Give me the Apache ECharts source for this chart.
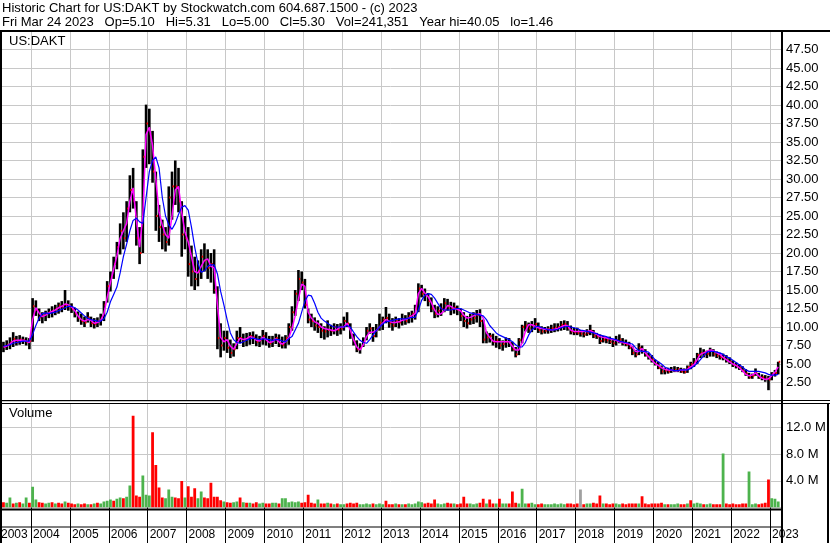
<!DOCTYPE html>
<html>
<head>
<meta charset="utf-8">
<script src="https://cdn.jsdelivr.net/npm/echarts@6/dist/echarts.min.js"></script>
<style>
html, body { margin: 0; padding: 0; background: #fff; }
#chart { width: 830px; height: 543px; }
</style>
</head>
<body>
<div id="chart"></div>
<script>
// monthly bars, April 2003 .. March 2023
const lows = [
  6.6, 6.9, 7.0, 7.3, 7.5, 7.6, 7.7, 7.5, 7.0,
  8.0, 11.5, 10.8, 10.5, 10.8, 11.2, 11.3, 11.6, 11.8, 12.0, 12.3, 12.2,
  11.9, 11.3, 10.7, 10.3, 10.0, 10.6, 10.0, 9.8, 10.0, 10.2, 10.8, 13.3,
  14.8, 16.5, 17.8, 19.8, 20.5, 21.5, 25.5, 26.0, 21.0, 18.5, 20.0, 31.5,
  32.0, 29.5, 23.0, 21.5, 20.5, 20.2, 21.0, 24.5, 26.5, 25.5, 19.5, 20.5,
  16.8, 15.5, 15.0, 15.5, 16.5, 17.5, 16.5, 16.0, 14.5, 7.0, 5.9, 6.8,
  6.5, 5.8, 6.0, 7.0, 7.8, 7.3, 7.4, 7.6, 7.7, 7.4, 7.3, 7.6,
  7.5, 7.2, 7.3, 7.7, 7.3, 7.1, 7.1, 7.6, 9.5, 11.5, 13.5, 15.0,
  12.5, 10.5, 10.0, 9.5, 9.2, 8.5, 8.3, 8.6, 8.8, 9.0, 8.8, 9.0,
  9.5, 10.0, 8.4, 7.5, 6.6, 6.4, 7.3, 8.2, 9.1, 8.0, 8.6, 9.5,
  9.6, 10.5, 9.9, 9.5, 10.0, 9.8, 10.2, 10.3, 10.5, 10.6, 11.0, 12.0,
  14.0, 13.5, 12.8, 12.0, 11.2, 11.3, 11.5, 12.0, 12.2, 11.6, 11.8, 11.6,
  10.8, 10.0, 9.8, 10.3, 10.4, 10.6, 10.0, 7.8, 7.8, 7.9, 7.5, 7.2,
  7.0, 6.8, 7.2, 7.3, 6.7, 5.9, 6.2, 7.8, 9.4, 9.2, 9.3, 9.6,
  9.2, 9.0, 9.1, 9.1, 9.2, 9.3, 9.4, 9.5, 9.6, 9.5, 9.0, 8.9,
  8.9, 8.7, 8.6, 8.8, 8.9, 8.5, 8.4, 7.7, 7.9, 7.8, 7.7, 7.3,
  7.5, 7.8, 7.5, 7.4, 7.0, 6.2, 5.9, 6.2, 6.4, 6.0, 5.6, 5.2,
  4.8, 4.3, 3.6, 3.6, 3.7, 3.8, 3.9, 3.9, 3.8, 3.7, 3.8, 4.3,
  4.6, 5.0, 5.8, 5.9, 5.8, 6.0, 6.0, 5.8, 5.6, 5.5, 5.2, 5.0,
  4.6, 4.4, 4.2, 3.9, 3.4, 3.0, 3.0, 3.4, 3.0, 2.8, 2.6, 1.46,
  2.8, 3.3, 3.6
];
const highs = [
  8.0, 8.2, 8.6, 9.3, 8.8, 8.9, 8.7, 8.6, 8.5,
  13.9, 13.6, 12.5, 12.0, 12.2, 12.5, 12.8, 13.0, 13.3, 13.5, 15.0, 13.6,
  13.2, 12.6, 12.1, 11.8, 11.4, 12.0, 11.4, 11.2, 11.3, 11.8, 13.5, 16.2,
  17.5, 19.5, 21.5, 24.0, 25.5, 27.0, 30.5, 31.5, 27.0, 23.5, 34.0, 40.05,
  39.5, 36.5, 31.0, 26.5, 24.5, 23.5, 29.0, 31.0, 32.5, 31.5, 27.0, 25.0,
  23.5, 21.0, 19.5, 19.0, 20.5, 21.3, 20.5, 20.0, 20.5, 15.5, 10.5, 9.5,
  9.5, 8.3, 7.8, 9.5, 10.0, 9.1, 9.2, 9.3, 9.4, 9.0, 8.8, 9.6,
  9.3, 8.8, 8.8, 9.1, 9.0, 8.7, 8.9, 10.5, 12.8, 15.0, 17.7, 17.5,
  16.5, 12.5, 11.8, 11.3, 10.9, 10.5, 10.1, 10.9, 10.3, 10.5, 10.4, 10.5,
  11.4, 12.0, 10.5, 9.1, 8.2, 7.8, 8.6, 10.0, 10.5, 10.0, 10.4, 11.8,
  11.4, 12.7, 11.8, 11.2, 11.4, 11.2, 11.8, 11.6, 12.0, 12.2, 13.0, 15.9,
  15.7, 15.2, 14.6, 14.0, 13.0, 12.8, 13.2, 13.9, 13.8, 13.4, 13.3, 12.9,
  12.5, 12.0, 11.5, 11.8, 12.0, 12.3, 12.4, 11.0, 9.4, 9.2, 9.1, 8.8,
  8.5, 8.2, 8.6, 8.5, 8.0, 7.3, 8.5, 10.3, 10.8, 10.6, 10.8, 11.2,
  10.6, 10.1, 10.0, 10.1, 10.3, 10.5, 10.5, 10.8, 10.9, 10.8, 10.2, 9.9,
  9.9, 9.6, 9.5, 9.7, 10.3, 9.6, 9.2, 9.0, 8.8, 8.6, 8.7, 8.3,
  8.8, 9.0, 8.5, 8.3, 8.0, 7.4, 6.9, 7.8, 7.5, 7.0, 6.5, 6.2,
  5.6, 5.3, 4.8, 4.5, 4.5, 4.6, 4.7, 4.6, 4.5, 4.4, 4.8, 5.3,
  5.8, 6.5, 7.2, 7.0, 6.8, 7.2, 7.0, 6.7, 6.5, 6.4, 6.2, 5.9,
  5.5, 5.2, 5.0, 4.7, 4.3, 3.8, 3.7, 4.4, 3.8, 3.6, 3.5, 3.4,
  3.9, 4.2, 5.31
];
const closes = [
  7.3, 7.6, 7.9, 8.4, 8.0, 8.3, 8.2, 8.0, 8.1,
  12.8, 12.3, 11.3, 11.5, 11.8, 12.0, 12.2, 12.5, 12.9, 12.6, 13.0, 12.8,
  12.4, 11.8, 11.2, 10.8, 10.6, 11.3, 10.5, 10.4, 10.8, 11.0, 13.0, 15.5,
  16.8, 18.5, 20.8, 23.0, 22.0, 26.0, 28.5, 27.0, 22.0, 20.0, 33.0, 37.5,
  36.0, 31.0, 25.0, 23.5, 22.5, 21.5, 27.5, 29.0, 29.0, 27.0, 22.5, 22.0,
  18.5, 17.5, 16.5, 17.5, 19.5, 19.0, 18.0, 18.5, 15.0, 8.5, 7.5, 8.5,
  7.2, 6.5, 7.0, 8.5, 8.5, 8.2, 8.5, 8.8, 8.6, 8.0, 8.2, 8.8,
  8.2, 7.8, 8.2, 8.5, 7.8, 7.6, 8.5, 10.0, 12.0, 14.5, 16.5, 16.0,
  13.0, 11.0, 10.8, 10.2, 10.0, 9.5, 9.4, 9.6, 9.5, 10.0, 9.6, 9.8,
  10.8, 10.5, 9.0, 8.0, 7.0, 7.2, 8.0, 9.5, 9.8, 8.8, 9.7, 10.6,
  11.0, 11.2, 10.5, 10.2, 10.8, 10.6, 11.0, 10.8, 11.5, 11.8, 12.5, 15.2,
  14.5, 14.3, 13.5, 12.5, 11.8, 12.2, 12.5, 13.2, 12.8, 12.4, 12.6, 12.3,
  11.5, 10.8, 10.5, 11.0, 11.2, 11.6, 10.8, 8.3, 8.6, 8.8, 8.0, 8.2,
  7.5, 7.7, 8.0, 7.8, 7.0, 6.3, 8.2, 10.0, 10.2, 9.8, 10.2, 10.4,
  9.6, 9.4, 9.5, 9.7, 9.8, 9.9, 10.0, 10.3, 10.4, 9.9, 9.4, 9.3,
  9.2, 9.1, 9.0, 9.2, 9.5, 8.8, 8.7, 8.1, 8.3, 8.2, 8.0, 7.8,
  8.2, 8.3, 7.8, 7.6, 7.2, 6.5, 6.3, 7.2, 6.8, 6.2, 5.9, 5.6,
  5.0, 4.5, 4.0, 4.1, 4.0, 4.2, 4.2, 4.3, 4.0, 3.9, 4.6, 5.0,
  5.3, 6.2, 6.5, 6.3, 6.4, 6.8, 6.3, 6.1, 5.9, 5.8, 5.5, 5.3,
  4.9, 4.7, 4.5, 4.1, 3.7, 3.2, 3.4, 3.7, 3.2, 3.2, 3.0, 2.9,
  3.6, 3.8, 5.30
];
// magenta (short) and blue (long) moving average lines, read per month
const maShort = [
  7.3, 7.4, 7.7, 8.1, 8.2, 8.2, 8.2, 8.1, 7.9,
  11.0, 12.6, 11.9, 11.4, 11.6, 11.9, 12.1, 12.3, 12.6, 12.8, 13.1, 13.0,
  12.7, 12.2, 11.5, 11.0, 10.8, 11.0, 10.9, 10.5, 10.6, 10.9, 11.8, 14.0,
  16.0, 17.8, 19.6, 22.0, 23.0, 24.0, 27.0, 28.8, 24.5, 20.8, 25.0, 36.0,
  37.0, 34.5, 30.0, 25.5, 23.8, 22.5, 22.0, 25.0, 28.5, 29.0, 25.5, 22.8,
  21.5, 19.5, 17.5, 17.3, 18.2, 19.0, 19.2, 18.2, 18.0, 13.0, 8.6, 8.0,
  8.3, 7.4, 7.0, 7.8, 8.5, 8.3, 8.4, 8.7, 8.6, 8.2, 8.1, 8.6,
  8.3, 7.9, 8.0, 8.4, 8.0, 7.7, 8.0, 8.5, 9.8, 11.5, 13.8, 15.8,
  15.5, 12.0, 11.2, 10.7, 10.5, 10.0, 9.8, 9.7, 9.6, 9.5, 9.7, 10.0,
  10.0, 10.5, 9.6, 8.3, 7.3, 6.9, 7.6, 8.7, 9.3, 9.3, 9.5, 10.0,
  10.5, 11.0, 10.8, 10.6, 10.6, 10.7, 10.9, 11.0, 11.2, 11.5, 11.8, 14.5,
  15.2, 14.6, 14.1, 13.3, 12.3, 11.7, 11.8, 12.2, 12.9, 12.8, 12.5, 12.4,
  12.2, 11.6, 11.2, 11.3, 11.5, 11.7, 11.8, 11.2, 9.2, 8.6, 8.1, 8.0,
  8.0, 8.0, 8.0, 8.0, 7.4, 6.9, 6.9, 7.9, 9.4, 10.3, 10.3, 10.1,
  9.9, 9.8, 9.7, 9.7, 9.6, 9.7, 9.8, 10.0, 10.2, 10.2, 9.6, 9.4,
  9.4, 9.4, 9.4, 9.4, 9.5, 9.3, 9.0, 8.7, 8.6, 8.5, 8.4, 8.3,
  8.2, 8.0, 7.9, 7.8, 7.7, 7.3, 6.7, 6.7, 7.1, 6.5, 6.0, 5.5,
  5.1, 4.8, 4.5, 4.3, 4.2, 4.2, 4.1, 4.1, 4.2, 4.2, 4.3, 4.6,
  4.9, 5.6, 6.3, 6.5, 6.7, 6.9, 6.8, 6.5, 6.3, 5.9, 5.6, 5.3,
  5.0, 4.8, 4.5, 4.1, 3.6, 3.4, 3.5, 3.8, 3.4, 3.1, 2.9, 3.0,
  3.4, 3.9, 4.6
];
const maLong = [
  7.4, 7.5, 7.6, 7.8, 7.9, 8.0, 8.1, 8.1, 8.1,
  9.0, 10.2, 11.2, 11.8, 11.9, 11.8, 11.9, 12.0, 12.2, 12.4, 12.6, 12.8,
  12.8, 12.6, 12.3, 11.9, 11.5, 11.2, 11.0, 10.9, 10.8, 10.8, 11.1, 12.0,
  13.4, 14.4, 15.4, 17.3, 19.5, 21.2, 23.0, 24.4, 24.7, 24.2, 24.0, 27.5,
  31.0, 32.5, 33.0, 31.5, 27.5, 25.0, 23.8, 23.2, 24.0, 25.2, 26.2, 26.4,
  25.8, 23.5, 20.8, 18.6, 17.4, 17.6, 18.2, 18.4, 18.4, 17.2, 14.8, 13.0,
  11.0, 9.2, 8.3, 7.9, 7.8, 8.0, 8.2, 8.4, 8.5, 8.4, 8.3, 8.4,
  8.4, 8.3, 8.2, 8.3, 8.3, 8.1, 8.0, 8.4, 8.7, 9.6, 10.5, 12.0,
  13.5, 14.3, 14.2, 13.2, 12.0, 11.2, 10.8, 10.5, 10.2, 10.0, 10.0, 10.0,
  10.0, 10.2, 10.0, 9.3, 8.7, 8.2, 7.9, 7.8, 8.3, 8.9, 9.5, 10.0,
  10.4, 10.7, 10.8, 10.9, 11.0, 11.1, 11.1, 11.1, 11.2, 11.3, 11.3, 12.3,
  13.6, 14.3, 14.5, 14.4, 13.9, 13.2, 12.5, 12.3, 12.3, 12.3, 12.4, 12.5,
  12.5, 12.3, 12.1, 11.9, 11.8, 11.7, 11.6, 11.5, 11.0, 10.2, 9.7, 9.2,
  8.9, 8.7, 8.5, 8.3, 8.0, 7.6, 7.3, 7.3, 7.9, 8.9, 9.6, 10.0,
  10.1, 9.9, 9.8, 9.6, 9.6, 9.6, 9.7, 9.9, 10.0, 10.1, 10.0, 9.9,
  9.8, 9.6, 9.5, 9.4, 9.3, 9.2, 9.1, 8.9, 8.8, 8.7, 8.5, 8.4,
  8.3, 8.1, 8.0, 7.9, 7.8, 7.7, 7.2, 6.8, 6.7, 6.7, 6.6, 6.1,
  5.6, 5.3, 5.0, 4.6, 4.4, 4.2, 4.1, 4.1, 4.2, 4.2, 4.2, 4.4,
  4.7, 5.1, 5.6, 6.1, 6.6, 6.7, 6.7, 6.6, 6.5, 6.3, 6.0, 5.8,
  5.5, 5.2, 4.9, 4.6, 4.2, 4.0, 4.0, 4.0, 4.0, 3.9, 3.8, 3.6,
  3.5, 3.5, 3.6
];
// volume in millions, largest bar seen in each month
const volumes = [
  0.8, 0.7, 1.5, 0.6, 0.7, 0.8, 0.6, 1.5, 0.7,
  3.1, 1.2, 0.8, 0.7, 0.6, 0.7, 0.8, 0.6, 0.7, 0.6, 0.9, 0.7,
  0.6, 0.5, 0.6, 0.5, 0.6, 0.5, 0.5, 0.6, 0.7, 0.6, 0.9, 1.0,
  1.2, 1.0, 1.3, 1.5, 1.4, 1.6, 3.3, 13.8, 1.8, 1.6, 4.8, 1.9,
  1.8, 11.3, 6.4, 3.0, 1.5, 1.4, 2.7, 1.6, 1.5, 1.4, 4.0, 1.5,
  3.2, 1.6, 2.9, 1.4, 2.4, 1.5, 1.4, 3.7, 1.6, 1.6, 1.1, 0.9,
  0.8, 0.7, 0.8, 0.9, 1.5, 0.8, 0.7, 0.7, 0.6, 0.8, 0.6, 0.7,
  0.6, 0.6, 0.7, 0.7, 0.6, 1.4, 1.4, 0.8, 0.9, 0.8, 0.9, 0.7,
  0.8, 1.9, 0.7, 0.6, 1.2, 0.6, 0.6, 0.7, 0.6, 0.5, 0.6, 0.5,
  0.5, 0.6, 0.7, 0.6, 0.7, 0.5, 0.5, 0.6, 0.5, 0.6, 0.5, 0.6,
  0.5, 1.0, 0.5, 0.5, 0.6, 0.5, 0.5, 0.5, 0.6, 0.5, 0.6, 0.9,
  0.8, 0.6, 0.7, 0.6, 1.2, 0.6, 0.5, 0.6, 0.7, 0.6, 0.6, 0.5,
  0.6, 1.6, 0.6, 0.6, 0.5, 0.6, 0.7, 1.3, 0.6, 1.2, 0.6, 0.6,
  1.3, 0.6, 0.6, 0.6, 2.4, 0.7, 0.6, 2.8, 0.6, 0.6, 0.7, 0.5,
  0.5, 0.6, 0.5, 0.5, 0.5, 0.6, 0.5, 0.6, 0.5, 0.6, 0.6, 0.5,
  0.6, 2.7, 0.5, 0.6, 0.6, 0.7, 0.6, 1.8, 0.6, 0.6, 0.5, 0.6,
  0.6, 0.5, 0.6, 0.5, 0.6, 0.6, 0.6, 0.6, 1.7, 0.6, 0.5, 0.6,
  0.6, 0.6, 0.7, 0.5, 0.5, 0.5, 0.5, 0.6, 0.5, 0.5, 0.6, 1.1,
  0.6, 0.7, 0.6, 0.5, 0.5, 0.6, 0.5, 0.5, 0.5, 8.1, 0.6, 0.5,
  0.6, 0.5, 0.5, 0.6, 0.6, 5.4, 0.5, 0.6, 0.5, 0.6, 0.7, 4.2,
  1.4, 1.3, 0.9
];
// g = up (green), r = down (red), n = unchanged (grey), one string per year
const volSides = [
  'rggrgrggr',
  'ggrrggrgrrgr', 'rrgrrgrgrggg', 'grggrggrrrgg', 'grrrrgggrrrg',
  'rrrggrrrrrrg', 'rrggrgrgrrgg', 'rrggrggggggr', 'rrrrgrrgrgrg',
  'grrrrggggrgg', 'grrrgrgrgggg', 'grrrrgggrrgr', 'rrrgggrrgrrg',
  'rggrrrgggrgg', 'rrgggggggrrr', 'rnrggrrrgrrr', 'ggrrrrrgrrrr',
  'rrrgrgggrrgr', 'gggrggrrrgrr', 'rrrrrgggrrrr',
  'ggg'
].join('');

const monthTime = i => 2003 + (i + 3.5) / 12;
const xMin = 2003;
const xMax = 2003 + 789.9 / 38.9;

const priceData = lows.map((lo, i) => [monthTime(i), lo, highs[i], closes[i]]);
const shortData = maShort.map((v, i) => [monthTime(i), v]);
const longData = maLong.map((v, i) => [monthTime(i), v]);
const sideCode = { g: 0, r: 1, n: 2 };
const volData = volumes.map((v, i) => [monthTime(i), v, sideCode[volSides[i]] || 0]);
const volColors = ['#4db34d', '#ff0000', '#a0a0a0'];

const FONT = '"Liberation Sans", Arial, sans-serif';
const GRID_GREY = '#c8c8c8';

function priceBar(params, api) {
  const t = api.value(0);
  const lo = api.coord([t, api.value(1)]);
  const hi = api.coord([t, api.value(2)]);
  const cl = api.coord([t, api.value(3)]);
  return {
    type: 'group',
    children: [
      { type: 'rect', shape: { x: lo[0] - 1.3, y: hi[1], width: 2.6, height: Math.max(1, lo[1] - hi[1]) }, style: { fill: '#000' } },
      { type: 'rect', shape: { x: cl[0] + 0.5, y: cl[1] - 1, width: 1.5, height: 2 }, style: { fill: '#ff0000' } }
    ]
  };
}

function volBar(params, api) {
  const t = api.value(0);
  const top = api.coord([t, api.value(1)]);
  const base = api.coord([t, 0]);
  return {
    type: 'rect',
    shape: { x: top[0] - 1.4, y: top[1], width: 2.8, height: base[1] - top[1] },
    style: { fill: volColors[api.value(2)] }
  };
}

const chart = echarts.init(document.getElementById('chart'));
chart.setOption({
  animation: false,
  backgroundColor: '#fff',
  textStyle: { fontFamily: FONT },
  title: [
    {
      text: 'Historic Chart for US:DAKT by Stockwatch.com 604.687.1500 - (c) 2023\n' +
        'Fri Mar 24 2023   Op=5.10   Hi=5.31   Lo=5.00   Cl=5.30   Vol=241,351   Year hi=40.05   lo=1.46',
      left: 2, top: 1, padding: 0,
      textStyle: { fontSize: 13, fontWeight: 'normal', color: '#000', lineHeight: 14, fontFamily: FONT }
    },
    { text: 'US:DAKT', left: 9, top: 35, padding: 0, textStyle: { fontSize: 13, fontWeight: 'normal', color: '#000', fontFamily: FONT } },
    { text: 'Volume', left: 9, top: 407, padding: 0, textStyle: { fontSize: 13, fontWeight: 'normal', color: '#000', fontFamily: FONT } },
    { text: '2003', left: 1, top: 529, padding: 0, textStyle: { fontSize: 12, fontWeight: 'normal', color: '#000', fontFamily: FONT } }
  ],
  grid: [
    { left: -7.9, right: 48, top: 31, bottom: 142, outerBoundsMode: 'none', containLabel: false },
    { left: -7.9, right: 48, top: 403, bottom: 35.5, outerBoundsMode: 'none', containLabel: false }
  ],
  xAxis: [
    {
      gridIndex: 0, type: 'value', min: xMin, max: xMax, interval: 1,
      axisLine: { show: false }, axisTick: { show: false }, axisLabel: { show: false },
      splitLine: { show: true, lineStyle: { color: GRID_GREY, width: 1 } }
    },
    {
      gridIndex: 1, type: 'value', min: xMin, max: xMax, interval: 1,
      axisLine: { show: false },
      axisTick: { show: true, length: 36, lineStyle: { color: '#000', width: 1 } },
      axisLabel: {
        show: true, margin: 21, align: 'left', padding: [0, 0, 0, 2],
        fontSize: 12, color: '#000', fontFamily: FONT,
        formatter: v => (Number.isInteger(v) && v > 2003) ? String(v) : ''
      },
      splitLine: { show: true, lineStyle: { color: GRID_GREY, width: 1 } }
    }
  ],
  yAxis: [
    {
      gridIndex: 0, type: 'value', min: 0, max: 50, interval: 2.5, position: 'right',
      axisLine: { show: false }, axisTick: { show: false },
      axisLabel: { margin: 4, fontSize: 13, color: '#000', fontFamily: FONT,
        formatter: v => (v > 0 && v < 50) ? v.toFixed(2) : '' },
      splitLine: { show: true, lineStyle: { color: GRID_GREY, width: 1 } }
    },
    {
      gridIndex: 1, type: 'value', min: 0, max: 15.7, interval: 4, position: 'right',
      axisLine: { show: false }, axisTick: { show: false },
      axisLabel: { margin: 4, fontSize: 13, color: '#000', fontFamily: FONT,
        formatter: v => (v > 0 && v < 15) ? v.toFixed(1) + ' M' : '' },
      splitLine: { show: true, lineStyle: { color: GRID_GREY, width: 1 } }
    }
  ],
  series: [
    {
      type: 'custom', name: 'price', xAxisIndex: 0, yAxisIndex: 0,
      renderItem: priceBar, data: priceData, encode: { x: 0, y: [1, 2, 3] }, clip: true, z: 2
    },
    {
      type: 'line', name: 'short ma', xAxisIndex: 0, yAxisIndex: 0, data: shortData,
      showSymbol: false, symbol: 'none', lineStyle: { color: '#ff00ff', width: 1.5 }, z: 3
    },
    {
      type: 'line', name: 'long ma', xAxisIndex: 0, yAxisIndex: 0, data: longData,
      showSymbol: false, symbol: 'none', lineStyle: { color: '#0000ff', width: 1.2 }, z: 4
    },
    {
      type: 'custom', name: 'volume', xAxisIndex: 1, yAxisIndex: 1,
      renderItem: volBar, data: volData, encode: { x: 0, y: 1 }, clip: true, z: 2
    }
  ],
  graphic: [
    { type: 'rect', z: 100, shape: { x: 0, y: 30, width: 830, height: 2 }, style: { fill: '#000' } },
    { type: 'rect', z: 100, shape: { x: 0, y: 400, width: 830, height: 1 }, style: { fill: '#000' } },
    { type: 'rect', z: 100, shape: { x: 0, y: 403, width: 830, height: 1 }, style: { fill: '#000' } },
    { type: 'rect', z: 100, shape: { x: 781, y: 31, width: 2, height: 512 }, style: { fill: '#000' } },
    { type: 'rect', z: 100, shape: { x: 0, y: 31, width: 2, height: 512 }, style: { fill: '#000' } },
    { type: 'rect', z: 100, shape: { x: 827, y: 403, width: 2, height: 140 }, style: { fill: '#000' } },
    { type: 'rect', z: 100, shape: { x: 0, y: 508.5, width: 782, height: 2 }, style: { fill: '#000' } },
    { type: 'rect', z: 100, shape: { x: 0, y: 526.5, width: 782, height: 1 }, style: { fill: '#000' } }
  ]
});
</script>
</body>
</html>
